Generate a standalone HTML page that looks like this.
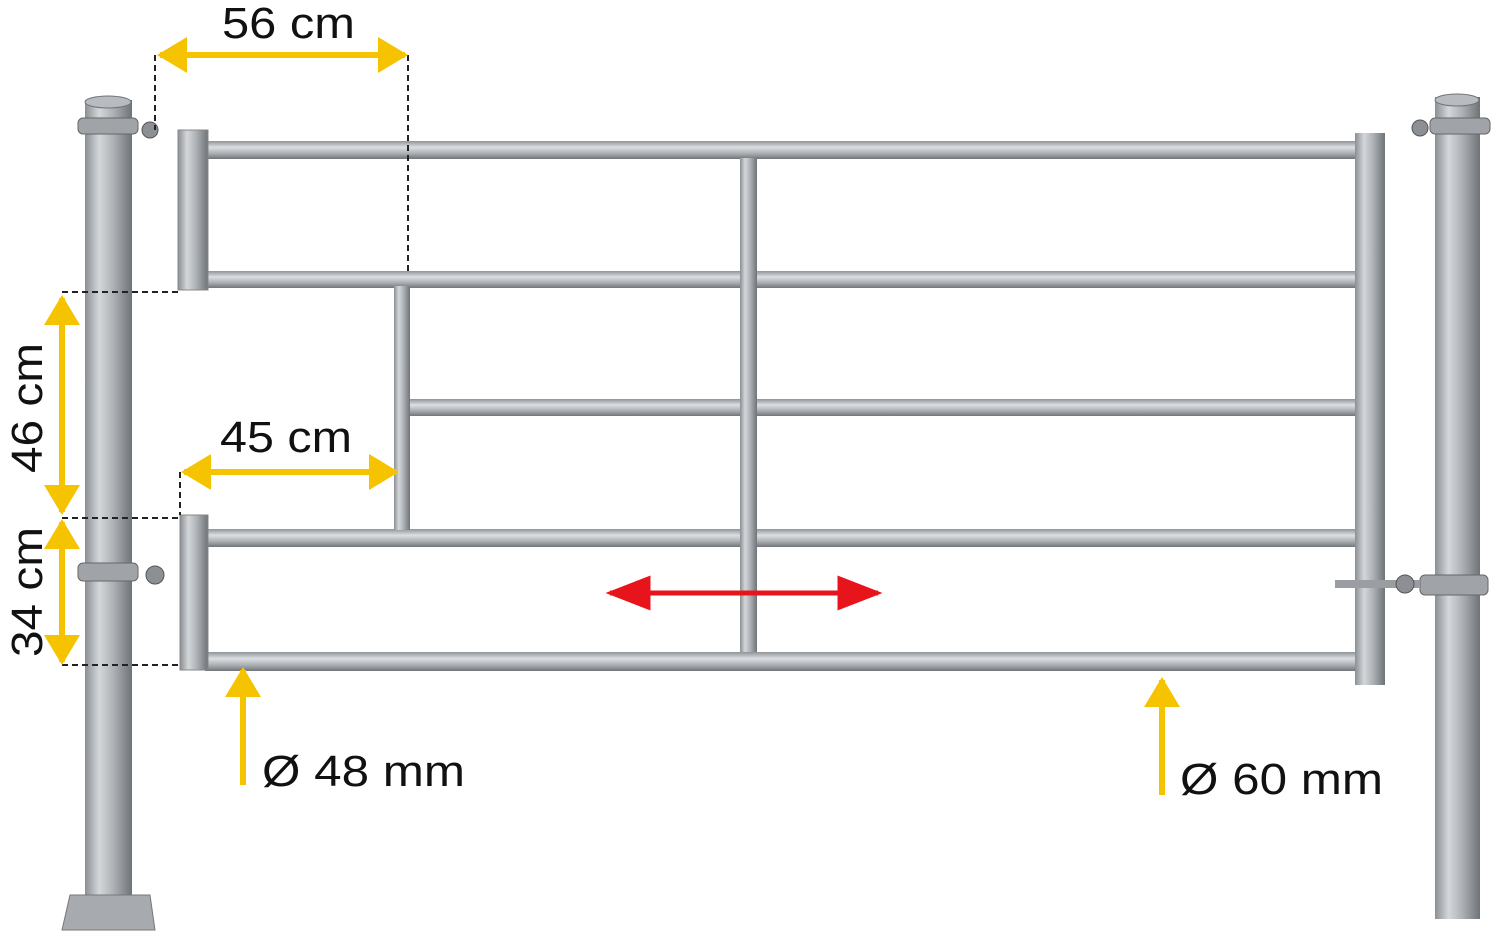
<!DOCTYPE html>
<html><head><meta charset="utf-8"><style>
html,body{margin:0;padding:0;background:#fff;}
svg{display:block;}
text{font-family:"Liberation Sans","DejaVu Sans",sans-serif;fill:#111;}
</style></head><body>
<svg width="1500" height="935" viewBox="0 0 1500 935" xmlns="http://www.w3.org/2000/svg">
<defs>
<linearGradient id="pv" x1="0" y1="0" x2="1" y2="0">
<stop offset="0" stop-color="#8a8f94"/><stop offset="0.3" stop-color="#d4d7da"/><stop offset="0.6" stop-color="#aeb2b6"/><stop offset="1" stop-color="#6e7377"/></linearGradient>
<linearGradient id="ph" x1="0" y1="0" x2="0" y2="1">
<stop offset="0" stop-color="#8f9498"/><stop offset="0.35" stop-color="#dcdfe2"/><stop offset="0.7" stop-color="#a9adb1"/><stop offset="1" stop-color="#70757a"/></linearGradient>
<marker id="ya" viewBox="0 0 10 10" refX="9" refY="5" markerWidth="5" markerHeight="6" orient="auto-start-reverse" preserveAspectRatio="none"><path d="M0,0 L10,5 L0,10 z" fill="#f6c300"/></marker>
<marker id="ra" viewBox="0 0 10 10" refX="9" refY="5" markerWidth="9" markerHeight="7" orient="auto-start-reverse" preserveAspectRatio="none"><path d="M0,0 L10,5 L0,10 z" fill="#e8141b"/></marker>
</defs>

<rect x="85" y="100" width="47" height="800" fill="url(#pv)"/>
<ellipse cx="108" cy="102" rx="23" ry="6" fill="#b8bcc0" stroke="#6d7276"/>
<path d="M70,895 L150,895 L155,930 L62,930 Z" fill="#a7abaf" stroke="#777"/>
<rect x="1435" y="97" width="45" height="822" fill="url(#pv)"/>
<ellipse cx="1457" cy="100" rx="22" ry="6" fill="#b8bcc0" stroke="#6d7276"/>

<rect x="205" y="141" width="1158" height="18" fill="url(#ph)"/>
<rect x="205" y="271" width="1152" height="17" fill="url(#ph)"/>
<rect x="405" y="399" width="952" height="17" fill="url(#ph)"/>
<rect x="205" y="529" width="1152" height="18" fill="url(#ph)"/>
<rect x="205" y="652" width="1152" height="19" fill="url(#ph)"/>
<rect x="740" y="158" width="17" height="494" fill="url(#pv)"/>
<rect x="394" y="286" width="16" height="244" fill="url(#pv)"/>
<rect x="1355" y="133" width="30" height="552" fill="url(#pv)"/>
<rect x="178" y="130" width="30" height="160" fill="url(#pv)" stroke="#888"/>
<rect x="180" y="515" width="28" height="155" fill="url(#pv)" stroke="#888"/>

<rect x="78" y="118" width="60" height="16" rx="5" fill="#a0a4a8" stroke="#666"/>
<circle cx="150" cy="130" r="8" fill="#8c9094" stroke="#555"/>
<rect x="78" y="563" width="60" height="18" rx="5" fill="#a0a4a8" stroke="#666"/>
<circle cx="155" cy="575" r="9" fill="#8c9094" stroke="#555"/>
<rect x="1430" y="118" width="60" height="16" rx="5" fill="#a0a4a8" stroke="#666"/>
<circle cx="1420" cy="128" r="8" fill="#8c9094" stroke="#555"/>
<rect x="1420" y="575" width="68" height="20" rx="5" fill="#a0a4a8" stroke="#666"/>
<rect x="1335" y="580" width="85" height="8" fill="#9a9ea2"/>
<circle cx="1405" cy="584" r="9" fill="#8c9094" stroke="#555"/>

<g stroke="#222" stroke-width="2" stroke-dasharray="6,4" fill="none">
<line x1="155" y1="55" x2="155" y2="130"/>
<line x1="408" y1="55" x2="408" y2="272"/>
<line x1="62" y1="292" x2="180" y2="292"/>
<line x1="62" y1="518" x2="180" y2="518"/>
<line x1="62" y1="665" x2="180" y2="665"/>
<line x1="180" y1="472" x2="180" y2="515"/>
</g>

<g stroke="#f6c300" stroke-width="6" fill="none">
<line x1="160" y1="55" x2="405" y2="55" marker-start="url(#ya)" marker-end="url(#ya)"/>
<line x1="62" y1="298" x2="62" y2="512" marker-start="url(#ya)" marker-end="url(#ya)"/>
<line x1="62" y1="522" x2="62" y2="662" marker-start="url(#ya)" marker-end="url(#ya)"/>
<line x1="184" y1="472" x2="396" y2="472" marker-start="url(#ya)" marker-end="url(#ya)"/>
<line x1="243" y1="785" x2="243" y2="670" marker-end="url(#ya)"/>
<line x1="1162" y1="795" x2="1162" y2="680" marker-end="url(#ya)"/>
</g>

<line x1="610" y1="593" x2="878" y2="593" stroke="#e8141b" stroke-width="5" marker-start="url(#ra)" marker-end="url(#ra)"/>

<text x="222" y="38" font-size="44" textLength="133" lengthAdjust="spacingAndGlyphs">56 cm</text>
<text x="220" y="452" font-size="44" textLength="132" lengthAdjust="spacingAndGlyphs">45 cm</text>
<text transform="translate(42,408) rotate(-90)" font-size="44" text-anchor="middle" textLength="130" lengthAdjust="spacingAndGlyphs">46 cm</text>
<text transform="translate(42,592) rotate(-90)" font-size="44" text-anchor="middle" textLength="130" lengthAdjust="spacingAndGlyphs">34 cm</text>
<text x="262" y="786" font-size="44" textLength="203" lengthAdjust="spacingAndGlyphs">Ø 48 mm</text>
<text x="1180" y="794" font-size="44" textLength="203" lengthAdjust="spacingAndGlyphs">Ø 60 mm</text>
</svg>
</body></html>
